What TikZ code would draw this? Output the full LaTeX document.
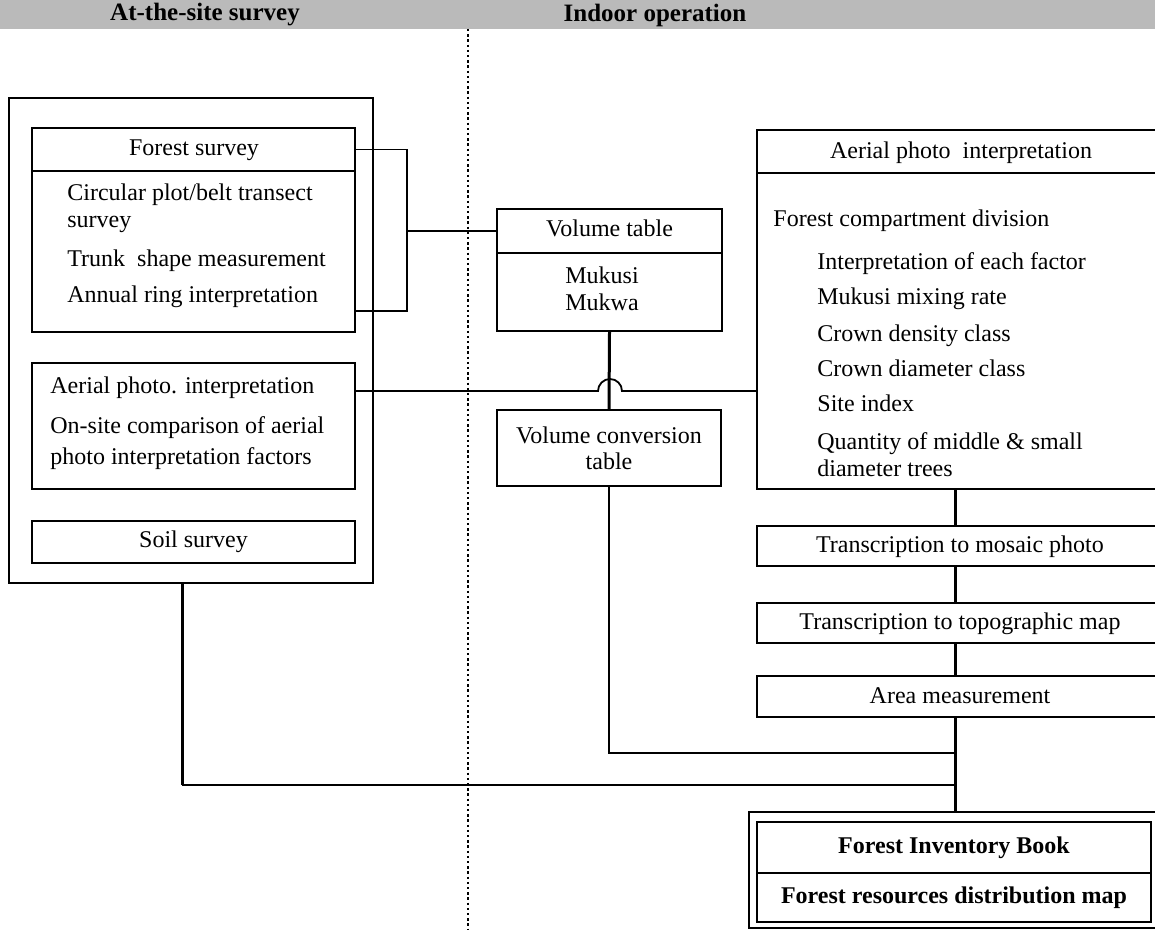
\documentclass[tikz,border=0pt]{standalone}
\usepackage{fontspec}
\setmainfont{Liberation Serif}
\usetikzlibrary{fit}
\begin{document}
\begin{tikzpicture}[x=0.5pt,y=-0.5pt,
  font=\fontsize{12}{14}\selectfont,
  box/.style={draw, line width=0.9pt, inner sep=0pt},
  txt/.style={inner sep=0pt, text height=1.6ex, text depth=0.4ex},
  hdr/.style={inner sep=0pt, font=\fontsize{12.5}{14}\selectfont\bfseries},
  conn/.style={line width=0.9pt},
  thk/.style={line width=1.5pt}]
\useasboundingbox (0,0) rectangle (1155,930);
\clip (0,0) rectangle (1155,930);
\fill[white] (0,0) rectangle (1155,930);
% header band
\fill[black!27] (0,0) rectangle (1155,29);
\node[hdr] (hd1) at (205,15) {At-the-site survey};
\node[hdr] (hd2) at (655,15) {Indoor operation};
% divider
\coordinate (dv1) at (468,29);
\coordinate (dv2) at (468,930);
\draw[line width=1pt, dash pattern=on 1.2pt off 1.4pt] (dv1) -- (dv2);

% left block
\node[box, line width=1.1pt, fit={(9,98)(373,583)}] (L) {};
\node[box, fit={(32,128)(355,171)}] (fsh) {};
\node[box, fit={(32,171)(355,332)}] (fsb) {};
\node[txt] (fst) at (194,150) {Forest survey};
\node[txt, anchor=west] (f1) at (67,195) {Circular plot/belt transect};
\node[txt, anchor=west] (f2) at (67,222) {survey};
\node[txt, anchor=west] (f3) at (67,261) {Trunk\ \ shape measurement};
\node[txt, anchor=west] (f4) at (67,297) {Annual ring interpretation};

\node[box, fit={(32,363)(355,489)}] (ap) {};
\node[txt, anchor=west] (a1) at (50,388) {Aerial photo. interpretation};
\node[txt, anchor=west] (a2) at (50,428) {On-site comparison of aerial};
\node[txt, anchor=west] (a3) at (50,459) {photo interpretation factors};

\node[box, fit={(32,521)(355,563)}] (soil) {};
\node[txt] (st) at (soil.center) {Soil survey};

% volume tables
\node[box, fit={(497,209)(722,253)}] (vth) {};
\node[box, fit={(497,253)(722,331)}] (vtb) {};
\node[txt] (vtt) at (vth.center) {Volume table};
\node[txt, anchor=west] (mk1) at (565,278) {Mukusi};
\node[txt, anchor=west] (mk2) at (565,305) {Mukwa};

\node[box, fit={(497,410)(721,486)}] (vc) {};
\node[txt] (vc1) at (609,438) {Volume conversion};
\node[txt] (vc2) at (609,464) {table};

% right block
\node[box, fit={(757,130)(1170,173)}] (aih) {};
\node[box, fit={(757,173)(1170,489)}] (aib) {};
\node[txt] (ait) at (961,153) {Aerial photo\ \ interpretation};
\node[txt, anchor=west] (r0) at (773,221) {Forest compartment division};
\node[txt, anchor=west] (r1) at (817,264) {Interpretation of each factor};
\node[txt, anchor=west] (r2) at (817,299) {Mukusi mixing rate};
\node[txt, anchor=west] (r3) at (817,336) {Crown density class};
\node[txt, anchor=west] (r4) at (817,371) {Crown diameter class};
\node[txt, anchor=west] (r5) at (817,406) {Site index};
\node[txt, anchor=west] (r6) at (817,444) {Quantity of middle \& small};
\node[txt, anchor=west] (r7) at (817,471) {diameter trees};

\node[box, fit={(757,526)(1170,566)}] (tm) {};
\node[txt] (tmt) at (960,547) {Transcription to mosaic photo};
\node[box, fit={(757,603)(1170,643)}] (tt) {};
\node[txt] (ttt) at (960,624) {Transcription to topographic map};
\node[box, fit={(757,676)(1170,717)}] (am) {};
\node[txt] (amt) at (960,698) {Area measurement};

\node[box, line width=1.4pt, fit={(749,812)(1175,928)}] (fo) {};
\node[box, fit={(757,822)(1151,873)}] (fib) {};
\node[box, fit={(757,873)(1151,922)}] (frd) {};
\node[txt, font=\fontsize{12}{14}\selectfont\bfseries] (fibt) at (fib.center) {Forest Inventory Book};
\node[txt, font=\fontsize{12}{14}\selectfont\bfseries] (frdt) at (frd.center) {Forest resources distribution map};

% connectors
\coordinate (bb) at (407,311);
\coordinate (bm) at (407,231);
\draw[conn] (fsh.east) -| (bb) -- (fsb.east |- bb);
\draw[conn] (bm) -- (vth.west);

\coordinate (j1) at (598,391);
\draw[conn] (ap.east |- j1) -- (j1) arc[start angle=180, end angle=360, radius=12] -- (aib.west |- j1);
\draw[thk] (vtb.south) -- (vc.north);

\coordinate (m1) at (955,753);
\coordinate (m2) at (955,785);
\coordinate (lx) at (182,785);
\draw[line width=1.1pt] (vc.south) |- (m1);
\draw[thk] (L.south -| lx) -- (lx);
\draw[conn] (lx) -- (m2);

\draw[thk] (aib.south -| m1) -- (tm.north -| m1);
\draw[thk] (tm.south -| m1) -- (tt.north -| m1);
\draw[thk] (tt.south -| m1) -- (am.north -| m1);
\draw[thk] (am.south -| m1) -- (fo.north -| m1);
\end{tikzpicture}
\end{document}
